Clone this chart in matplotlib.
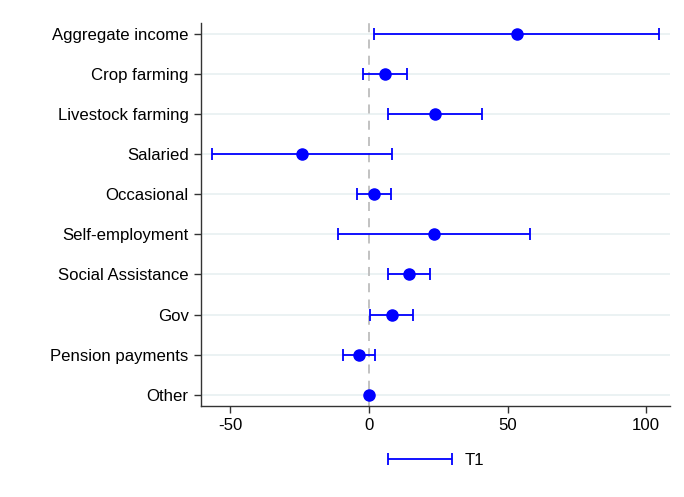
import matplotlib.pyplot as plt
from matplotlib.legend_handler import HandlerErrorbar

plt.rcParams['font.family'] = ['Liberation Sans', 'DejaVu Sans']

# DATA
categories = ["Aggregate income", "Crop farming", "Livestock farming", "Salaried",
              "Occasional", "Self-employment", "Social Assistance", "Gov",
              "Pension payments", "Other"]
estimates = [53.3, 5.9, 23.8, -24.2, 1.8, 23.6, 14.4, 8.2, -3.5, 0.0]
ci_low = [1.7, -2.2, 7.0, -56.8, -4.4, -11.2, 7.0, 0.5, -9.4, 0.0]
ci_high = [104.7, 13.8, 40.8, 8.4, 7.9, 58.1, 21.9, 15.9, 2.0, 0.0]
xticks = [-50, 0, 50, 100]

BLUE = (0, 0, 1)
FS = 12.1

fig = plt.figure(figsize=(6.84, 4.97), dpi=100)
ax = fig.add_axes([0.294, 0.1837, 0.6855, 0.7706])

ypos = list(range(len(categories)))
err_lo = [e - l for e, l in zip(estimates, ci_low)]
err_hi = [h - e for e, h in zip(estimates, ci_high)]

# grid lines
for y in ypos:
    ax.axhline(y, color='#e8f0f1', lw=1.2, zorder=0)
ax.axvline(0, color='#bdbdbd', lw=1.3, ls=(0, (5, 4)), zorder=1)

# CIs (skip zero-width ones)
has_ci = [h > l for l, h in zip(ci_low, ci_high)]
ci_y = [y for y, k in zip(ypos, has_ci) if k]
ci_e = [e for e, k in zip(estimates, has_ci) if k]
ci_lo = [v for v, k in zip(err_lo, has_ci) if k]
ci_hi = [v for v, k in zip(err_hi, has_ci) if k]
eb = ax.errorbar(ci_e, ci_y, xerr=[ci_lo, ci_hi], fmt='none', ecolor=BLUE,
                 elinewidth=1.3, capsize=4.5, capthick=1.3, zorder=2, label='T1')
ax.plot(estimates, ypos, 'o', color=BLUE, ms=8, zorder=3)

ax.set_yticks(ypos)
ax.set_yticklabels(categories, fontsize=FS)
ax.set_xticks(xticks)
ax.set_xticklabels([str(t) for t in xticks], fontsize=FS)
ax.set_xlim(-60.6, 108.6)
ax.set_ylim(9.27, -0.27)
ax.spines['top'].set_visible(False)
ax.spines['right'].set_visible(False)
for s in ('left', 'bottom'):
    ax.spines[s].set_color('#333333')
    ax.spines[s].set_linewidth(1.0)
ax.tick_params(axis='both', direction='out', length=5, width=1, color='#333333', pad=4)

fig.legend(handles=[eb], labels=['T1'], loc='center', bbox_to_anchor=(0.6375, 0.0744),
           frameon=False, fontsize=FS, handlelength=3.87, handletextpad=0.75,
           handler_map={type(eb): HandlerErrorbar(xerr_size=1.93)})

fig.savefig('out.png', dpi=100)
